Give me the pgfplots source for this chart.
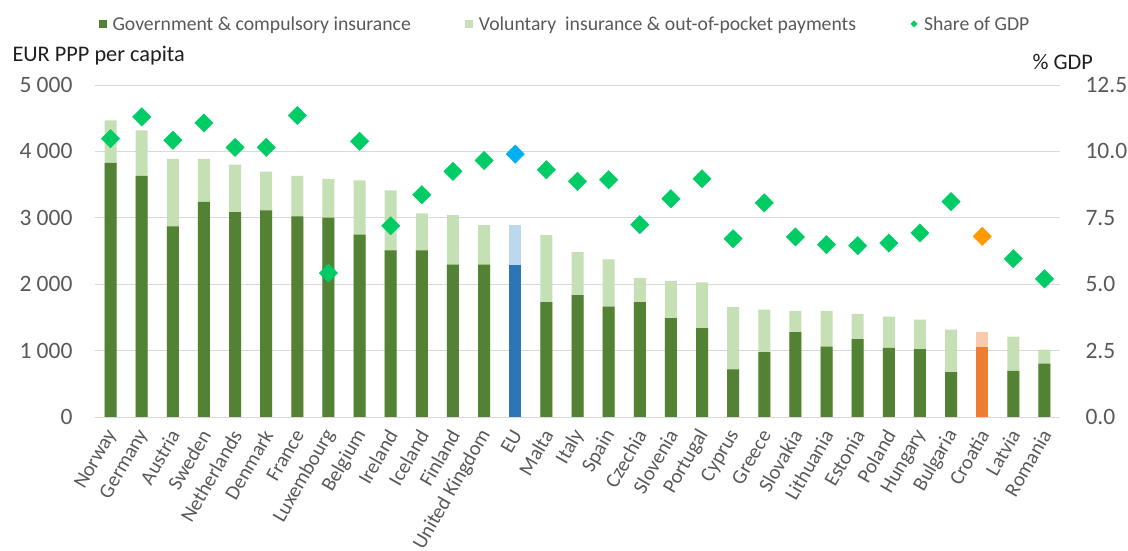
\documentclass[border=0pt]{standalone}
\usepackage{pgfplots}
\pgfplotsset{compat=1.18}
\usepackage{pgfplotstable}
\usepackage{fontspec}
\setmainfont{Carlito}
\definecolor{dkgreen}{HTML}{548235}
\definecolor{ltgreen}{HTML}{C5E0B4}
\definecolor{dmgreen}{HTML}{00CC66}
\definecolor{eublue}{HTML}{2E75B6}
\definecolor{eult}{HTML}{BDD7EE}
\definecolor{eudm}{HTML}{00B0F0}
\definecolor{hror}{HTML}{ED7D31}
\definecolor{hrlt}{HTML}{F8CBAD}
\definecolor{hrdm}{HTML}{FF9900}
\definecolor{gridgray}{HTML}{D9D9D9}
\definecolor{txtgray}{HTML}{595959}

% x gov total gdp
\pgfplotstableread{
x gov tot gdp
0 3826 4469 10.48
1 3630 4318 11.30
2 2870 3887 10.42
3 3238 3887 11.07
4 3087 3801 10.15
5 3112 3695 10.15
6 3021 3630 11.35
7 3001 3585 5.42
8 2745 3564 10.38
9 2508 3413 7.20
10 2508 3066 8.37
11 2293 3042 9.25
12 2293 2891 9.66
14 1730 2740 9.31
15 1835 2484 8.87
16 1664 2373 8.93
17 1730 2092 7.24
18 1488 2051 8.22
19 1338 2026 8.97
20 719 1659 6.71
21 976 1618 8.06
22 1277 1599 6.78
23 1061 1599 6.49
24 1172 1553 6.45
25 1041 1513 6.55
26 1021 1468 6.93
27 674 1317 8.11
29 694 1211 5.96
30 804 1015 5.20
}\countries
\pgfplotstableread{
x gov tot gdp
13 2293 2891 9.90
}\eu
\pgfplotstableread{
x gov tot gdp
28 1061 1277 6.80
}\hr

\begin{document}
\begin{tikzpicture}
\begin{axis}[
  at={(95pt,134pt)}, anchor=south west,
  scale only axis, width=965pt, height=332pt,
  xmin=-0.5, xmax=30.5, ymin=0, ymax=5000,
  axis line style={draw=none},
  major tick length=0pt,
  ymajorgrids, grid style={draw=gridgray, line width=0.9pt},
  ytick={0,1000,2000,3000,4000,5000},
  yticklabels={0,1 000,2 000,3 000,4 000,5 000},
  yticklabel style={font=\fontsize{23.5}{27}\selectfont, text=txtgray, xshift=-19pt},
  xtick={0,...,30},
  xticklabels={Norway,Germany,Austria,Sweden,Netherlands,Denmark,France,Luxembourg,Belgium,Ireland,Iceland,Finland,United Kingdom,EU,Malta,Italy,Spain,Czechia,Slovenia,Portugal,Cyprus,Greece,Slovakia,Lithuania,Estonia,Poland,Hungary,Bulgaria,Croatia,Latvia,Romania},
  xticklabel style={font=\fontsize{20.5}{23}\selectfont, text=txtgray, xshift=3.5pt, yshift=-11.5pt, rotate=60, anchor=east},
  legend columns=3,
  legend style={at={(axis description cs:0.487,1.184)}, anchor=center, draw=none, fill=none,
    font=\fontsize{19.7}{22}\selectfont, text=txtgray,
    /tikz/every even column/.append style={column sep=52pt}},
  legend cell align=left,
]
\addlegendimage{legend image code/.code={\fill[dkgreen, draw=none] (0pt,-4pt) rectangle (8pt,4pt); \path[draw=none, fill=none] (0pt,0pt) -- (12pt,0pt);}}
\addlegendentry{Government \& compulsory insurance}
\addlegendimage{legend image code/.code={\fill[ltgreen, draw=none] (0pt,-4pt) rectangle (8pt,4pt); \path[draw=none, fill=none] (0pt,0pt) -- (12pt,0pt);}}
\addlegendentry{Voluntary\ \ insurance \& out-of-pocket payments}
\addlegendimage{legend image code/.code={\fill[dmgreen, draw=none] (4pt,-3.5pt) -- (7.5pt,0pt) -- (4pt,3.5pt) -- (0.5pt,0pt) -- cycle; \path[draw=none, fill=none] (0pt,0pt) -- (12pt,0pt);}}
\addlegendentry{Share of GDP}

\addplot[ybar, bar width=12pt, bar shift=0pt, fill=ltgreen, draw=none, forget plot] table[x=x, y=tot] {\countries};
\addplot[ybar, bar width=12pt, bar shift=0pt, fill=dkgreen, draw=none, forget plot] table[x=x, y=gov] {\countries};
\addplot[ybar, bar width=12pt, bar shift=0pt, fill=eult, draw=none, forget plot] table[x=x, y=tot] {\eu};
\addplot[ybar, bar width=12pt, bar shift=0pt, fill=eublue, draw=none, forget plot] table[x=x, y=gov] {\eu};
\addplot[ybar, bar width=12pt, bar shift=0pt, fill=hrlt, draw=none, forget plot] table[x=x, y=tot] {\hr};
\addplot[ybar, bar width=12pt, bar shift=0pt, fill=hror, draw=none, forget plot] table[x=x, y=gov] {\hr};
\end{axis}

\begin{axis}[
  at={(95pt,134pt)}, anchor=south west,
  scale only axis, width=965pt, height=332pt,
  xmin=-0.5, xmax=30.5, ymin=0, ymax=12.5,
  axis line style={draw=none},
  major tick length=0pt,
  xtick=\empty,
  yticklabel pos=right,
  ytick={0,2.5,5,7.5,10,12.5},
  yticklabels={0.0,2.5,5.0,7.5,10.0,12.5},
  yticklabel style={font=\fontsize{23.5}{27}\selectfont, text=txtgray, xshift=22pt},
]
\addplot[dmgreen, only marks, mark=square*, mark size=6.5pt, mark options={rotate=45, draw=dmgreen, fill=dmgreen}] table[x=x, y=gdp] {\countries};
\addplot[eudm, only marks, mark=square*, mark size=6.5pt, mark options={rotate=45, draw=eudm, fill=eudm}] table[x=x, y=gdp] {\eu};
\addplot[hrdm, only marks, mark=square*, mark size=6.5pt, mark options={rotate=45, draw=hrdm, fill=hrdm}] table[x=x, y=gdp] {\hr};
\end{axis}

\node[anchor=west, font=\fontsize{22.3}{25}\selectfont, text=black!88] at (9pt,495pt) {EUR PPP per capita};
\node[anchor=west, font=\fontsize{22.3}{25}\selectfont, text=black!88] at (1029pt,489pt) {\% GDP};

\pgfresetboundingbox
\path (0pt,0pt) rectangle (1128pt,551pt);
\end{tikzpicture}
\end{document}
